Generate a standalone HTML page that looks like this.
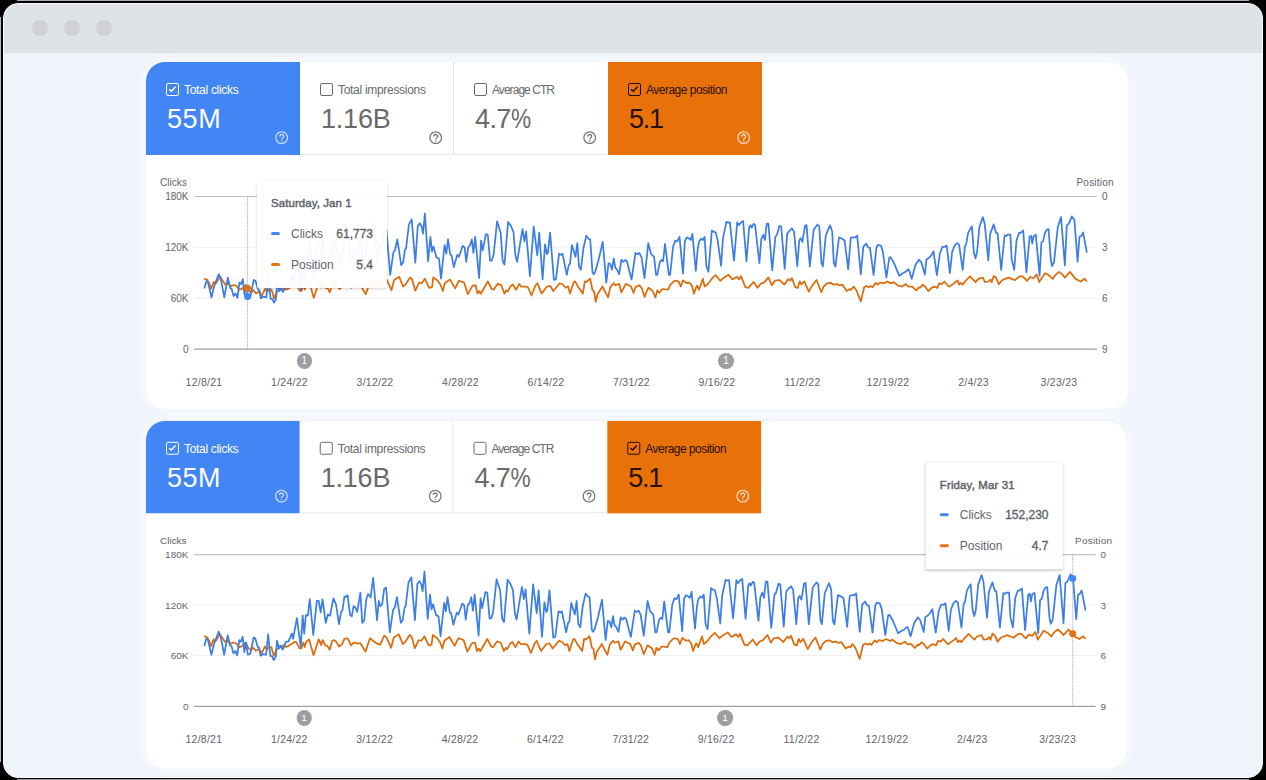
<!DOCTYPE html>
<html><head><meta charset="utf-8">
<style>
*{margin:0;padding:0;box-sizing:border-box}
html,body{width:1266px;height:780px;overflow:hidden;background:#000;font-family:"Liberation Sans",sans-serif}
#frame{position:absolute;left:3px;top:3px;width:1260px;height:775px;border-radius:15px;background:#f0f4fa;overflow:hidden;border:1px solid #fff}
.gl{position:absolute;background:#a9acb0}
#hdr{position:absolute;left:0;top:0;width:100%;height:49px;background:#dfe3e6}
.dot{position:absolute;top:16px;width:16px;height:16px;border-radius:50%;background:#cfd1d4}
.card{position:absolute;left:146px;width:982px;background:#fff;border-radius:19px;box-shadow:0 0 2px rgba(60,80,120,0.06),0 0 12px 3px rgba(255,255,255,0.55)}
.tile{position:absolute;overflow:hidden}
.in{position:absolute;left:0;right:0;top:0;bottom:0}
.orange .help{color:#fff;opacity:.75}
.tile.blue{background:#4285f4;color:#fff;border-top-left-radius:19px}
.tile.orange{background:#e8710a;color:rgba(0,0,0,0.87)}
.tile.white{background:#fff;color:#6a6a6a;border-bottom:1px solid #e6e6e6}
.tile.bd{border-right:1px solid #e3e3e3}
.cb{position:absolute;left:20px;top:21px;width:12.8px;height:12.6px;border:1.8px solid currentColor;border-radius:2px}
.cb svg{position:absolute;left:-1.8px;top:-1.8px}
.lbl{position:absolute;left:38px;top:20.5px;font-size:12px;line-height:14px;white-space:nowrap;letter-spacing:-0.3px}
.val{position:absolute;left:21px;top:41.8px;font-size:27px;line-height:31px;white-space:nowrap;letter-spacing:-0.2px}
.help{position:absolute;right:10.6px;top:67.8px;opacity:.72}
.white .help{color:#666;opacity:.9}
.bd .help{right:9.6px}
.ax{position:absolute;font-size:10px;line-height:11px;color:#5f6368;white-space:nowrap}
.ax.r{text-align:right}
.xl{position:absolute;width:80px;text-align:center;font-size:10.5px;line-height:12px;color:#5f6368;white-space:nowrap;letter-spacing:0.25px}
.ann{position:absolute;width:15.2px;height:15.2px;border-radius:50%;background:#9e9e9e;color:#fff;font-size:10px;line-height:15px;text-align:center}
svg.ch{position:absolute;left:0;top:0}
.cw{position:absolute;left:0;top:0;width:1266px;height:780px}
.tt{position:absolute;background:rgba(255,255,255,0.95);border-radius:2px;box-shadow:0 1px 3px rgba(0,0,0,0.18)}
.tt .d{position:absolute;left:14px;top:16px;font-size:11.5px;font-weight:normal;-webkit-text-stroke:0.45px #5f6368;color:#5f6368;white-space:nowrap;letter-spacing:0.07px}
.tt .row{position:absolute;left:14px;right:14px;height:14px;font-size:12px;color:#5f6368}
.tt .dash{position:absolute;left:0;top:5px;width:9px;height:3px;border-radius:2px}
.tt .k{position:absolute;left:20px;top:0}
.tt .v{position:absolute;right:0;top:0;font-weight:normal;-webkit-text-stroke:0.35px #5f6368;color:#5f6368}
</style></head><body>
<div class="gl" style="left:17px;top:0;width:1232px;height:1px"></div><div class="gl" style="left:0;top:17px;width:1px;height:745px;background:#b8bcc0"></div><div class="gl" style="left:17px;top:779px;width:1232px;height:1px;background:#9c9c9c"></div>
<div id="frame">
<div id="hdr"></div>
<div class="dot" style="left:28px"></div><div class="dot" style="left:60px"></div><div class="dot" style="left:92px"></div>
</div>
<div class="cw">
<div class="card" style="top:62px;height:346.8px"></div>
<div class="tile blue" style="left:146px;top:62px;width:154px;height:93px"><div class="in" style="top:0px"><div class="cb on"><svg viewBox="0 0 12 12" width="12" height="12"><path d="M4.2 7.4 L6.3 9.2 L10.6 4.7" fill="none" stroke="currentColor" stroke-width="1.5"/></svg></div><div class="lbl" style="letter-spacing:-0.3px">Total clicks</div><div class="val"><span style="letter-spacing:0.55px">55M</span></div><svg class="help" viewBox="0 0 24 24" width="15.4" height="15.4"><path fill="currentColor" d="M11 18h2v-2h-2v2zm1-16C6.48 2 2 6.48 2 12s4.48 10 10 10 10-4.48 10-10S17.52 2 12 2zm0 18c-4.41 0-8-3.59-8-8s3.59-8 8-8 8 3.59 8 8-3.59 8-8 8zm0-14c-2.21 0-4 1.79-4 4h2c0-1.1.9-2 2-2s2 .9 2 2c0 2-3 1.75-3 5h2c0-2.25 3-2.5 3-5 0-2.21-1.790-4-4-4z"/></svg></div></div>
<div class="tile white bd" style="left:300px;top:62px;width:154px;height:93px"><div class="in" style="top:0px"><div class="cb"></div><div class="lbl" style="letter-spacing:-0.3px">Total impressions</div><div class="val">1.16B</div><svg class="help" viewBox="0 0 24 24" width="15.4" height="15.4"><path fill="currentColor" d="M11 18h2v-2h-2v2zm1-16C6.48 2 2 6.48 2 12s4.48 10 10 10 10-4.48 10-10S17.52 2 12 2zm0 18c-4.41 0-8-3.59-8-8s3.59-8 8-8 8 3.59 8 8-3.59 8-8 8zm0-14c-2.21 0-4 1.79-4 4h2c0-1.1.9-2 2-2s2 .9 2 2c0 2-3 1.75-3 5h2c0-2.25 3-2.5 3-5 0-2.21-1.790-4-4-4z"/></svg></div></div>
<div class="tile white" style="left:454px;top:62px;width:154px;height:93px"><div class="in" style="top:0px"><div class="cb"></div><div class="lbl" style="letter-spacing:-0.95px">Average CTR</div><div class="val"><span style="letter-spacing:-0.6px">4.7</span><span style="display:inline-block;transform:scaleX(0.84);transform-origin:0 0">%</span></div><svg class="help" viewBox="0 0 24 24" width="15.4" height="15.4"><path fill="currentColor" d="M11 18h2v-2h-2v2zm1-16C6.48 2 2 6.48 2 12s4.48 10 10 10 10-4.48 10-10S17.52 2 12 2zm0 18c-4.41 0-8-3.59-8-8s3.59-8 8-8 8 3.59 8 8-3.59 8-8 8zm0-14c-2.21 0-4 1.79-4 4h2c0-1.1.9-2 2-2s2 .9 2 2c0 2-3 1.75-3 5h2c0-2.25 3-2.5 3-5 0-2.21-1.790-4-4-4z"/></svg></div></div>
<div class="tile orange" style="left:608px;top:62px;width:153.7px;height:93px"><div class="in" style="top:0px"><div class="cb on"><svg viewBox="0 0 12 12" width="12" height="12"><path d="M4.2 7.4 L6.3 9.2 L10.6 4.7" fill="none" stroke="currentColor" stroke-width="1.5"/></svg></div><div class="lbl" style="letter-spacing:-0.51px">Average position</div><div class="val"><span style="letter-spacing:-1.2px">5.1</span></div><svg class="help" viewBox="0 0 24 24" width="15.4" height="15.4"><path fill="currentColor" d="M11 18h2v-2h-2v2zm1-16C6.48 2 2 6.48 2 12s4.48 10 10 10 10-4.48 10-10S17.52 2 12 2zm0 18c-4.41 0-8-3.59-8-8s3.59-8 8-8 8 3.59 8 8-3.59 8-8 8zm0-14c-2.21 0-4 1.79-4 4h2c0-1.1.9-2 2-2s2 .9 2 2c0 2-3 1.75-3 5h2c0-2.25 3-2.5 3-5 0-2.21-1.790-4-4-4z"/></svg></div></div>
<svg class="ch" width="1266" height="780" viewBox="0 0 1266 780">
<line x1="194" x2="1097" y1="196.5" y2="196.5" stroke="#efefef" stroke-width="1"/>
<line x1="194" x2="1097" y1="247.3" y2="247.3" stroke="#efefef" stroke-width="1"/>
<line x1="194" x2="1097" y1="298.0" y2="298.0" stroke="#efefef" stroke-width="1"/>
<line x1="194" x2="1097" y1="196.5" y2="196.5" transform="translate(0,0)" stroke="#c2c2c2" stroke-width="1.2"/>
<line x1="194" x2="1097" y1="349.2" y2="349.2" stroke="#a0a0a0" stroke-width="1.3"/>
<path d="M204.1,278.6 L207.3,279.9 L209.2,283.1 L211.1,288.9 L213.7,281.8 L215.6,283.8 L220.1,276.7 L225.2,284.4 L227.2,283.1 L231.0,286.3 L233.6,285.0 L236.2,285.7 L239.4,289.6 L241.9,288.9 L245.8,285.0 L249.0,291.5 L251.6,292.1 L253.5,290.2 L256.1,293.4 L259.3,291.5 L261.8,296.0 L265.1,288.9 L267.0,292.1 L269.3,289.6 L271.5,289.6 L274.0,298.6 L276.6,292.1 L279.8,290.2 L283.7,287.6 L286.2,289.6 L290.1,287.6 L294.6,284.4 L296.5,284.4 L299.7,290.8 L301.6,290.8 L303.6,285.0 L304.9,289.6 L306.5,284.4 L309.3,281.8 L313.8,297.9 L319.0,281.8 L321.5,287.6 L322.8,282.6 L323.5,283.1 L325.4,287.8 L327.7,288.4 L329.9,292.3 L332.5,283.2 L334.4,282.6 L336.3,283.9 L339.3,289.0 L342.1,287.1 L344.7,281.3 L347.9,280.7 L351.3,287.8 L353.9,285.2 L357.5,285.8 L360.7,285.8 L365.8,294.2 L370.3,280.7 L374.2,283.9 L376.8,285.8 L380.6,287.1 L384.5,278.1 L387.0,280.0 L391.5,290.3 L394.1,280.0 L399.2,276.8 L403.1,286.5 L405.6,284.5 L410.1,277.4 L412.1,279.4 L415.3,290.7 L419.1,282.6 L421.7,283.2 L424.9,278.7 L429.1,287.8 L432.0,287.1 L433.3,277.4 L437.7,280.7 L440.3,284.5 L442.9,291.0 L444.8,283.2 L449.9,279.4 L455.1,288.4 L458.9,280.7 L464.1,282.6 L467.9,294.2 L472.4,285.8 L475.6,285.2 L477.5,293.6 L479.1,291.0 L480.8,293.8 L487.8,281.3 L491.7,289.0 L493.6,289.7 L497.5,283.9 L501.3,285.2 L504.5,293.6 L506.4,290.3 L507.7,291.6 L510.9,285.8 L512.9,284.5 L516.1,289.7 L519.3,283.9 L521.2,286.5 L526.3,286.5 L528.3,287.8 L531.5,295.5 L535.3,285.8 L537.3,283.2 L541.7,293.6 L546.9,286.5 L550.1,285.8 L553.3,291.0 L559.7,283.2 L562.9,284.5 L565.5,287.8 L568.1,286.5 L570.0,293.6 L573.8,281.9 L575.1,281.3 L578.3,287.1 L580.3,289.7 L582.8,293.6 L584.8,281.3 L586.7,281.9 L588.0,280.7 L590.2,278.7 L592.5,290.3 L594.0,291.0 L595.7,301.9 L597.6,294.2 L602.5,286.5 L604.7,291.0 L608.1,297.4 L610.4,287.1 L613.7,283.2 L615.3,285.2 L619.2,283.9 L621.4,292.3 L625.8,283.9 L631.0,286.5 L633.6,292.9 L635.5,287.1 L639.3,285.2 L641.9,288.4 L644.5,296.8 L648.3,287.8 L650.2,289.0 L652.8,291.0 L655.4,297.4 L657.3,290.3 L659.2,292.9 L662.4,289.0 L668.2,289.7 L670.1,285.2 L674.6,280.7 L678.5,281.3 L680.8,286.5 L683.0,280.4 L686.8,283.2 L689.4,282.6 L692.0,285.8 L693.9,293.6 L696.5,286.5 L697.4,285.8 L699.0,289.7 L702.9,278.7 L704.6,286.5 L707.4,284.5 L711.9,278.7 L715.7,275.2 L720.2,280.7 L723.4,278.1 L728.6,274.8 L732.4,279.4 L736.9,276.8 L739.2,279.4 L741.0,276.1 L745.3,287.1 L748.5,287.8 L753.6,281.9 L757.5,287.8 L760.7,283.9 L763.9,282.6 L768.4,277.4 L771.8,285.2 L774.8,280.7 L779.3,280.0 L784.4,284.5 L788.3,279.1 L790.2,280.7 L791.9,278.1 L795.3,287.1 L797.9,287.8 L799.8,281.3 L801.4,284.5 L804.3,281.3 L808.8,291.6 L812.0,285.8 L816.5,280.0 L821.4,292.3 L823.6,286.5 L827.1,283.4 L830.9,282.8 L833.5,284.7 L836.7,284.1 L839.2,285.3 L842.4,284.7 L846.7,291.1 L849.5,289.2 L851.4,289.8 L853.6,286.6 L856.5,290.5 L860.8,301.4 L864.2,287.3 L866.4,286.0 L868.7,287.3 L870.6,286.0 L872.6,287.3 L875.8,282.8 L877.7,284.7 L880.3,282.5 L883.5,283.4 L887.3,281.5 L891.2,283.4 L893.7,282.1 L897.6,285.3 L902.1,286.6 L905.9,284.1 L908.5,286.6 L912.3,286.6 L916.2,290.5 L918.7,287.3 L920.0,287.9 L922.6,284.7 L924.5,286.0 L928.3,291.1 L931.5,287.9 L934.1,286.6 L937.3,287.9 L939.2,283.4 L941.8,284.1 L944.4,281.5 L948.2,286.0 L949.5,286.6 L954.6,282.8 L957.6,280.5 L959.1,284.7 L961.0,282.8 L962.7,284.7 L964.9,281.5 L970.0,276.4 L975.5,282.1 L978.3,278.9 L982.8,277.6 L985.0,282.1 L988.6,281.5 L990.5,279.6 L991.8,282.1 L993.7,276.1 L996.0,277.6 L998.8,284.1 L1002.1,280.2 L1005.3,278.9 L1008.5,277.6 L1011.7,278.9 L1014.9,280.2 L1019.4,276.4 L1022.6,276.4 L1027.1,280.8 L1030.3,277.0 L1033.5,278.3 L1036.7,274.4 L1039.2,282.1 L1045.0,273.2 L1048.8,275.1 L1052.7,278.9 L1055.3,275.1 L1059.1,271.9 L1062.3,274.4 L1064.9,277.6 L1070.0,271.9 L1075.6,278.9 L1080.8,281.5 L1084.6,278.7 L1086.9,281.5" fill="none" stroke="#dc6c0c" stroke-width="1.75" stroke-linejoin="round"/>
<path d="M204.3,288.5 L206.4,281.2 L207.9,281.8 L211.5,297.3 L214.3,285.7 L218.8,274.1 L220.8,279.2 L224.3,297.3 L227.8,277.7 L230.4,288.3 L231.7,288.9 L233.6,296.0 L235.5,293.4 L237.4,297.9 L239.4,282.5 L241.0,284.1 L242.8,279.2 L244.5,294.7 L246.2,285.0 L248.0,297.3 L250.5,296.3 L253.8,279.9 L255.4,280.8 L258.0,289.6 L259.3,290.2 L260.8,298.3 L263.1,296.7 L266.3,297.3 L268.3,276.7 L270.6,298.8 L272.1,298.8 L274.0,302.7 L276.0,299.2 L277.2,283.1 L279.2,290.8 L280.5,288.0 L283.0,292.1 L286.2,284.4 L288.8,283.8 L292.0,276.0 L293.3,281.2 L297.1,260.5 L301.0,289.6 L302.9,257.9 L304.5,276.0 L306.1,257.3 L308.1,257.9 L310.0,241.2 L313.5,277.3 L317.1,243.1 L319.0,243.1 L320.9,254.7 L322.8,241.6 L326.0,265.2 L328.2,256.8 L330.3,258.1 L333.7,240.6 L336.3,246.5 L339.3,266.5 L341.4,254.2 L342.7,252.9 L344.7,238.7 L345.9,239.4 L347.9,237.4 L350.4,257.4 L352.1,258.7 L353.9,248.4 L355.6,249.7 L357.5,254.2 L360.7,234.8 L362.6,265.2 L364.6,262.6 L366.5,241.9 L368.4,236.1 L371.0,239.4 L373.5,220.0 L377.4,262.6 L379.1,243.2 L380.6,248.4 L382.5,246.5 L384.5,231.0 L386.4,229.7 L390.2,274.8 L393.4,252.3 L395.0,250.3 L397.3,239.4 L401.2,265.2 L403.1,262.6 L405.0,249.7 L406.0,249.0 L408.9,224.5 L411.7,219.4 L415.3,262.6 L417.8,225.8 L419.8,223.2 L421.7,226.5 L423.0,233.6 L424.9,213.5 L428.1,261.3 L430.4,236.8 L432.0,251.6 L433.5,246.5 L436.5,257.4 L439.0,258.7 L441.0,278.7 L444.6,245.2 L446.3,253.6 L448.0,239.4 L450.3,254.8 L451.6,255.5 L453.8,267.1 L457.3,254.8 L458.9,256.8 L462.8,245.8 L464.7,247.7 L466.2,261.9 L468.3,247.1 L470.1,245.2 L471.8,239.4 L473.4,252.9 L475.2,236.8 L479.1,278.1 L481.1,240.6 L482.7,250.3 L485.9,234.2 L487.8,234.8 L490.1,260.7 L491.7,260.7 L493.6,254.8 L497.1,221.3 L500.7,232.9 L502.6,260.7 L504.5,264.5 L508.1,221.9 L510.9,225.8 L513.5,232.3 L515.4,255.5 L517.1,261.9 L522.5,229.0 L524.4,241.3 L526.1,231.4 L529.9,276.1 L533.7,226.5 L537.3,255.5 L539.2,232.6 L542.6,279.4 L545.0,244.5 L546.9,254.2 L547.9,252.9 L550.1,232.6 L553.9,280.0 L555.9,279.4 L559.1,253.6 L560.8,254.8 L562.5,253.6 L566.8,274.8 L568.7,265.2 L570.0,263.9 L571.9,245.2 L575.5,256.8 L577.3,243.2 L579.0,266.5 L580.9,269.7 L583.5,247.7 L586.3,235.7 L588.6,238.7 L590.2,239.4 L592.5,272.3 L593.7,274.2 L595.3,271.6 L598.9,258.7 L602.7,241.9 L606.3,282.6 L608.5,263.2 L610.2,263.9 L612.0,269.7 L613.7,258.5 L615.3,267.7 L617.1,269.7 L619.2,274.2 L621.4,259.7 L623.3,261.9 L625.2,260.0 L626.9,261.3 L629.7,272.3 L631.6,279.4 L635.5,252.9 L637.4,254.2 L639.3,252.9 L641.5,257.4 L644.5,278.1 L648.3,243.2 L650.9,253.6 L654.1,256.8 L656.0,274.8 L657.3,274.8 L659.9,261.9 L661.5,260.0 L663.1,261.3 L665.0,243.9 L668.9,274.8 L670.1,274.8 L673.1,246.5 L675.3,240.6 L677.2,241.3 L679.5,236.8 L683.0,273.6 L684.9,240.6 L686.8,237.4 L689.4,238.7 L690.7,240.0 L692.4,233.9 L695.8,271.0 L697.8,248.4 L699.0,241.9 L699.7,240.6 L701.2,238.7 L702.9,240.0 L704.6,236.8 L706.4,266.5 L708.4,271.6 L711.9,230.3 L713.8,231.9 L715.7,232.3 L717.7,240.6 L721.1,265.8 L723.0,238.1 L726.4,221.9 L727.9,222.6 L729.9,222.3 L734.0,260.7 L737.2,222.3 L738.8,225.2 L740.8,222.6 L743.1,221.0 L746.5,261.3 L749.1,227.7 L750.4,225.2 L751.7,227.7 L753.6,223.9 L755.1,224.9 L759.4,263.2 L761.3,239.4 L763.2,234.8 L764.9,240.0 L766.7,223.6 L768.4,223.6 L772.2,270.3 L775.4,236.8 L777.0,234.8 L779.5,225.8 L781.2,226.5 L784.7,269.0 L787.2,233.6 L789.3,231.0 L791.9,228.4 L794.0,231.6 L797.3,266.5 L799.2,240.6 L800.5,238.1 L802.4,241.9 L805.0,225.8 L806.5,224.9 L809.8,266.5 L813.7,229.7 L817.5,224.5 L819.3,226.5 L821.4,262.6 L822.9,266.5 L825.8,235.3 L830.0,225.3 L832.2,231.5 L833.8,262.9 L835.4,266.7 L839.0,237.3 L841.8,238.5 L844.6,240.5 L848.2,269.3 L850.8,237.9 L853.1,237.3 L855.3,237.3 L857.2,235.6 L860.8,274.4 L863.3,246.9 L866.2,243.7 L868.1,247.5 L870.0,247.9 L873.6,275.1 L876.4,247.5 L877.9,244.9 L880.9,245.6 L882.8,251.4 L886.4,277.6 L889.2,257.8 L890.5,257.1 L893.7,262.3 L899.2,275.7 L902.7,273.2 L904.6,272.5 L908.5,269.3 L909.7,271.9 L911.7,278.9 L915.5,264.8 L919.0,259.7 L921.3,262.3 L924.9,274.4 L926.4,259.7 L929.0,257.8 L930.9,255.8 L933.5,251.4 L936.9,275.1 L939.9,253.3 L942.4,246.9 L945.0,246.9 L946.3,245.6 L946.7,245.6 L949.9,273.2 L952.1,252.0 L954.6,245.6 L957.2,243.0 L959.1,244.9 L962.7,269.9 L964.9,246.2 L966.2,244.3 L968.1,232.8 L970.6,228.3 L971.9,226.4 L973.8,252.0 L975.5,258.4 L977.1,252.0 L979.4,227.0 L982.8,217.1 L984.7,223.8 L988.3,260.3 L990.1,234.1 L993.7,224.4 L996.0,232.8 L997.6,233.4 L1001.2,269.9 L1004.6,235.3 L1006.3,236.0 L1007.8,234.7 L1010.4,234.7 L1011.7,259.7 L1014.2,269.9 L1016.5,240.5 L1019.1,232.8 L1020.6,232.8 L1023.2,230.5 L1026.4,272.5 L1029.6,236.6 L1031.2,236.0 L1032.2,243.7 L1033.5,236.6 L1035.8,234.7 L1039.6,275.7 L1041.4,242.4 L1043.1,241.1 L1045.0,232.8 L1046.9,229.6 L1048.6,229.2 L1050.8,259.7 L1052.1,266.1 L1054.0,262.3 L1057.8,227.0 L1061.0,217.1 L1064.9,265.5 L1066.8,225.1 L1068.7,223.8 L1071.9,216.4 L1074.4,219.9 L1077.6,261.6 L1079.5,236.6 L1081.0,236.4 L1083.1,232.5 L1086.9,252.6" fill="none" stroke="#3d7ee6" stroke-width="1.75" stroke-linejoin="round"/>
<line x1="247.6" x2="247.6" y1="196.5" y2="349" stroke="#a8a8a8" stroke-width="1" stroke-dasharray="1.2,1"/>
<circle cx="247.6" cy="296.5" r="3.5" fill="#4285f4"/><circle cx="247.6" cy="288.3" r="3.5" fill="#e8710a"/>
</svg>
<div class="ax" style="left:160px;top:177px">Clicks</div>
<div class="ax" style="left:1076.5px;top:177px;letter-spacing:0.2px">Position</div>
<div class="ax r" style="right:1077.5px;top:191.0px">180K</div>
<div class="ax r" style="right:1077.5px;top:241.8px">120K</div>
<div class="ax r" style="right:1077.5px;top:292.5px">60K</div>
<div class="ax r" style="right:1077.5px;top:343.7px">0</div>
<div class="ax" style="left:1102px;top:191.0px">0</div>
<div class="ax" style="left:1102px;top:241.8px">3</div>
<div class="ax" style="left:1102px;top:292.5px">6</div>
<div class="ax" style="left:1102px;top:343.7px">9</div>
<div class="xl" style="left:164.0px;top:376px">12/8/21</div>
<div class="xl" style="left:249.5px;top:376px">1/24/22</div>
<div class="xl" style="left:335.0px;top:376px">3/12/22</div>
<div class="xl" style="left:420.5px;top:376px">4/28/22</div>
<div class="xl" style="left:506.0px;top:376px">6/14/22</div>
<div class="xl" style="left:591.5px;top:376px">7/31/22</div>
<div class="xl" style="left:677.0px;top:376px">9/16/22</div>
<div class="xl" style="left:762.5px;top:376px">11/2/22</div>
<div class="xl" style="left:848.0px;top:376px">12/19/22</div>
<div class="xl" style="left:933.5px;top:376px">2/4/23</div>
<div class="xl" style="left:1019.0px;top:376px">3/23/23</div>
<div class="ann" style="left:296.59999999999997px;top:353.4px">1</div>
<div class="ann" style="left:718.4px;top:353.4px">1</div>
<div class="tt" style="left:257px;top:181px;width:130px;height:107px">
<div class="d">Saturday, Jan 1</div>
<div class="row" style="top:46px"><div class="dash" style="background:#4285f4"></div><div class="k">Clicks</div><div class="v">61,773</div></div>
<div class="row" style="top:77px"><div class="dash" style="background:#e8710a"></div><div class="k">Position</div><div class="v">5.4</div></div>
</div>
</div>
<div class="cw" style="transform-origin:146px 0;transform:translate(0,359.39px) scale(0.9985,0.99345)">
<div class="card" style="top:62px;height:350px"></div>
<div class="tile blue" style="left:146px;top:62px;width:154px;height:93px"><div class="in" style="top:0px"><div class="cb on"><svg viewBox="0 0 12 12" width="12" height="12"><path d="M4.2 7.4 L6.3 9.2 L10.6 4.7" fill="none" stroke="currentColor" stroke-width="1.5"/></svg></div><div class="lbl" style="letter-spacing:-0.3px">Total clicks</div><div class="val"><span style="letter-spacing:0.55px">55M</span></div><svg class="help" viewBox="0 0 24 24" width="15.4" height="15.4"><path fill="currentColor" d="M11 18h2v-2h-2v2zm1-16C6.48 2 2 6.48 2 12s4.48 10 10 10 10-4.48 10-10S17.52 2 12 2zm0 18c-4.41 0-8-3.59-8-8s3.59-8 8-8 8 3.59 8 8-3.59 8-8 8zm0-14c-2.21 0-4 1.79-4 4h2c0-1.1.9-2 2-2s2 .9 2 2c0 2-3 1.75-3 5h2c0-2.25 3-2.5 3-5 0-2.21-1.790-4-4-4z"/></svg></div></div>
<div class="tile white bd" style="left:300px;top:62px;width:154px;height:93px"><div class="in" style="top:0px"><div class="cb"></div><div class="lbl" style="letter-spacing:-0.3px">Total impressions</div><div class="val">1.16B</div><svg class="help" viewBox="0 0 24 24" width="15.4" height="15.4"><path fill="currentColor" d="M11 18h2v-2h-2v2zm1-16C6.48 2 2 6.48 2 12s4.48 10 10 10 10-4.48 10-10S17.52 2 12 2zm0 18c-4.41 0-8-3.59-8-8s3.59-8 8-8 8 3.59 8 8-3.59 8-8 8zm0-14c-2.21 0-4 1.79-4 4h2c0-1.1.9-2 2-2s2 .9 2 2c0 2-3 1.75-3 5h2c0-2.25 3-2.5 3-5 0-2.21-1.790-4-4-4z"/></svg></div></div>
<div class="tile white" style="left:454px;top:62px;width:154px;height:93px"><div class="in" style="top:0px"><div class="cb"></div><div class="lbl" style="letter-spacing:-0.95px">Average CTR</div><div class="val"><span style="letter-spacing:-0.6px">4.7</span><span style="display:inline-block;transform:scaleX(0.84);transform-origin:0 0">%</span></div><svg class="help" viewBox="0 0 24 24" width="15.4" height="15.4"><path fill="currentColor" d="M11 18h2v-2h-2v2zm1-16C6.48 2 2 6.48 2 12s4.48 10 10 10 10-4.48 10-10S17.52 2 12 2zm0 18c-4.41 0-8-3.59-8-8s3.59-8 8-8 8 3.59 8 8-3.59 8-8 8zm0-14c-2.21 0-4 1.79-4 4h2c0-1.1.9-2 2-2s2 .9 2 2c0 2-3 1.75-3 5h2c0-2.25 3-2.5 3-5 0-2.21-1.790-4-4-4z"/></svg></div></div>
<div class="tile orange" style="left:608px;top:62px;width:153.7px;height:93px"><div class="in" style="top:0px"><div class="cb on"><svg viewBox="0 0 12 12" width="12" height="12"><path d="M4.2 7.4 L6.3 9.2 L10.6 4.7" fill="none" stroke="currentColor" stroke-width="1.5"/></svg></div><div class="lbl" style="letter-spacing:-0.51px">Average position</div><div class="val"><span style="letter-spacing:-1.2px">5.1</span></div><svg class="help" viewBox="0 0 24 24" width="15.4" height="15.4"><path fill="currentColor" d="M11 18h2v-2h-2v2zm1-16C6.48 2 2 6.48 2 12s4.48 10 10 10 10-4.48 10-10S17.52 2 12 2zm0 18c-4.41 0-8-3.59-8-8s3.59-8 8-8 8 3.59 8 8-3.59 8-8 8zm0-14c-2.21 0-4 1.79-4 4h2c0-1.1.9-2 2-2s2 .9 2 2c0 2-3 1.75-3 5h2c0-2.25 3-2.5 3-5 0-2.21-1.790-4-4-4z"/></svg></div></div>
<svg class="ch" width="1266" height="780" viewBox="0 0 1266 780">
<line x1="194" x2="1097" y1="196.5" y2="196.5" stroke="#efefef" stroke-width="1"/>
<line x1="194" x2="1097" y1="247.3" y2="247.3" stroke="#efefef" stroke-width="1"/>
<line x1="194" x2="1097" y1="298.0" y2="298.0" stroke="#efefef" stroke-width="1"/>
<line x1="194" x2="1097" y1="196.5" y2="196.5" transform="translate(0,0)" stroke="#c2c2c2" stroke-width="1.2"/>
<line x1="194" x2="1097" y1="349.2" y2="349.2" stroke="#a0a0a0" stroke-width="1.3"/>
<path d="M204.1,278.6 L207.3,279.9 L209.2,283.1 L211.1,288.9 L213.7,281.8 L215.6,283.8 L220.1,276.7 L225.2,284.4 L227.2,283.1 L231.0,286.3 L233.6,285.0 L236.2,285.7 L239.4,289.6 L241.9,288.9 L245.8,285.0 L249.0,291.5 L251.6,292.1 L253.5,290.2 L256.1,293.4 L259.3,291.5 L261.8,296.0 L265.1,288.9 L267.0,292.1 L269.3,289.6 L271.5,289.6 L274.0,298.6 L276.6,292.1 L279.8,290.2 L283.7,287.6 L286.2,289.6 L290.1,287.6 L294.6,284.4 L296.5,284.4 L299.7,290.8 L301.6,290.8 L303.6,285.0 L304.9,289.6 L306.5,284.4 L309.3,281.8 L313.8,297.9 L319.0,281.8 L321.5,287.6 L322.8,282.6 L323.5,283.1 L325.4,287.8 L327.7,288.4 L329.9,292.3 L332.5,283.2 L334.4,282.6 L336.3,283.9 L339.3,289.0 L342.1,287.1 L344.7,281.3 L347.9,280.7 L351.3,287.8 L353.9,285.2 L357.5,285.8 L360.7,285.8 L365.8,294.2 L370.3,280.7 L374.2,283.9 L376.8,285.8 L380.6,287.1 L384.5,278.1 L387.0,280.0 L391.5,290.3 L394.1,280.0 L399.2,276.8 L403.1,286.5 L405.6,284.5 L410.1,277.4 L412.1,279.4 L415.3,290.7 L419.1,282.6 L421.7,283.2 L424.9,278.7 L429.1,287.8 L432.0,287.1 L433.3,277.4 L437.7,280.7 L440.3,284.5 L442.9,291.0 L444.8,283.2 L449.9,279.4 L455.1,288.4 L458.9,280.7 L464.1,282.6 L467.9,294.2 L472.4,285.8 L475.6,285.2 L477.5,293.6 L479.1,291.0 L480.8,293.8 L487.8,281.3 L491.7,289.0 L493.6,289.7 L497.5,283.9 L501.3,285.2 L504.5,293.6 L506.4,290.3 L507.7,291.6 L510.9,285.8 L512.9,284.5 L516.1,289.7 L519.3,283.9 L521.2,286.5 L526.3,286.5 L528.3,287.8 L531.5,295.5 L535.3,285.8 L537.3,283.2 L541.7,293.6 L546.9,286.5 L550.1,285.8 L553.3,291.0 L559.7,283.2 L562.9,284.5 L565.5,287.8 L568.1,286.5 L570.0,293.6 L573.8,281.9 L575.1,281.3 L578.3,287.1 L580.3,289.7 L582.8,293.6 L584.8,281.3 L586.7,281.9 L588.0,280.7 L590.2,278.7 L592.5,290.3 L594.0,291.0 L595.7,301.9 L597.6,294.2 L602.5,286.5 L604.7,291.0 L608.1,297.4 L610.4,287.1 L613.7,283.2 L615.3,285.2 L619.2,283.9 L621.4,292.3 L625.8,283.9 L631.0,286.5 L633.6,292.9 L635.5,287.1 L639.3,285.2 L641.9,288.4 L644.5,296.8 L648.3,287.8 L650.2,289.0 L652.8,291.0 L655.4,297.4 L657.3,290.3 L659.2,292.9 L662.4,289.0 L668.2,289.7 L670.1,285.2 L674.6,280.7 L678.5,281.3 L680.8,286.5 L683.0,280.4 L686.8,283.2 L689.4,282.6 L692.0,285.8 L693.9,293.6 L696.5,286.5 L697.4,285.8 L699.0,289.7 L702.9,278.7 L704.6,286.5 L707.4,284.5 L711.9,278.7 L715.7,275.2 L720.2,280.7 L723.4,278.1 L728.6,274.8 L732.4,279.4 L736.9,276.8 L739.2,279.4 L741.0,276.1 L745.3,287.1 L748.5,287.8 L753.6,281.9 L757.5,287.8 L760.7,283.9 L763.9,282.6 L768.4,277.4 L771.8,285.2 L774.8,280.7 L779.3,280.0 L784.4,284.5 L788.3,279.1 L790.2,280.7 L791.9,278.1 L795.3,287.1 L797.9,287.8 L799.8,281.3 L801.4,284.5 L804.3,281.3 L808.8,291.6 L812.0,285.8 L816.5,280.0 L821.4,292.3 L823.6,286.5 L827.1,283.4 L830.9,282.8 L833.5,284.7 L836.7,284.1 L839.2,285.3 L842.4,284.7 L846.7,291.1 L849.5,289.2 L851.4,289.8 L853.6,286.6 L856.5,290.5 L860.8,301.4 L864.2,287.3 L866.4,286.0 L868.7,287.3 L870.6,286.0 L872.6,287.3 L875.8,282.8 L877.7,284.7 L880.3,282.5 L883.5,283.4 L887.3,281.5 L891.2,283.4 L893.7,282.1 L897.6,285.3 L902.1,286.6 L905.9,284.1 L908.5,286.6 L912.3,286.6 L916.2,290.5 L918.7,287.3 L920.0,287.9 L922.6,284.7 L924.5,286.0 L928.3,291.1 L931.5,287.9 L934.1,286.6 L937.3,287.9 L939.2,283.4 L941.8,284.1 L944.4,281.5 L948.2,286.0 L949.5,286.6 L954.6,282.8 L957.6,280.5 L959.1,284.7 L961.0,282.8 L962.7,284.7 L964.9,281.5 L970.0,276.4 L975.5,282.1 L978.3,278.9 L982.8,277.6 L985.0,282.1 L988.6,281.5 L990.5,279.6 L991.8,282.1 L993.7,276.1 L996.0,277.6 L998.8,284.1 L1002.1,280.2 L1005.3,278.9 L1008.5,277.6 L1011.7,278.9 L1014.9,280.2 L1019.4,276.4 L1022.6,276.4 L1027.1,280.8 L1030.3,277.0 L1033.5,278.3 L1036.7,274.4 L1039.2,282.1 L1045.0,273.2 L1048.8,275.1 L1052.7,278.9 L1055.3,275.1 L1059.1,271.9 L1062.3,274.4 L1064.9,277.6 L1070.0,271.9 L1075.6,278.9 L1080.8,281.5 L1084.6,278.7 L1086.9,281.5" fill="none" stroke="#dc6c0c" stroke-width="1.75" stroke-linejoin="round"/>
<path d="M204.3,288.5 L206.4,281.2 L207.9,281.8 L211.5,297.3 L214.3,285.7 L218.8,274.1 L220.8,279.2 L224.3,297.3 L227.8,277.7 L230.4,288.3 L231.7,288.9 L233.6,296.0 L235.5,293.4 L237.4,297.9 L239.4,282.5 L241.0,284.1 L242.8,279.2 L244.5,294.7 L246.2,285.0 L248.0,297.3 L250.5,296.3 L253.8,279.9 L255.4,280.8 L258.0,289.6 L259.3,290.2 L260.8,298.3 L263.1,296.7 L266.3,297.3 L268.3,276.7 L270.6,298.8 L272.1,298.8 L274.0,302.7 L276.0,299.2 L277.2,283.1 L279.2,290.8 L280.5,288.0 L283.0,292.1 L286.2,284.4 L288.8,283.8 L292.0,276.0 L293.3,281.2 L297.1,260.5 L301.0,289.6 L302.9,257.9 L304.5,276.0 L306.1,257.3 L308.1,257.9 L310.0,241.2 L313.5,277.3 L317.1,243.1 L319.0,243.1 L320.9,254.7 L322.8,241.6 L326.0,265.2 L328.2,256.8 L330.3,258.1 L333.7,240.6 L336.3,246.5 L339.3,266.5 L341.4,254.2 L342.7,252.9 L344.7,238.7 L345.9,239.4 L347.9,237.4 L350.4,257.4 L352.1,258.7 L353.9,248.4 L355.6,249.7 L357.5,254.2 L360.7,234.8 L362.6,265.2 L364.6,262.6 L366.5,241.9 L368.4,236.1 L371.0,239.4 L373.5,220.0 L377.4,262.6 L379.1,243.2 L380.6,248.4 L382.5,246.5 L384.5,231.0 L386.4,229.7 L390.2,274.8 L393.4,252.3 L395.0,250.3 L397.3,239.4 L401.2,265.2 L403.1,262.6 L405.0,249.7 L406.0,249.0 L408.9,224.5 L411.7,219.4 L415.3,262.6 L417.8,225.8 L419.8,223.2 L421.7,226.5 L423.0,233.6 L424.9,213.5 L428.1,261.3 L430.4,236.8 L432.0,251.6 L433.5,246.5 L436.5,257.4 L439.0,258.7 L441.0,278.7 L444.6,245.2 L446.3,253.6 L448.0,239.4 L450.3,254.8 L451.6,255.5 L453.8,267.1 L457.3,254.8 L458.9,256.8 L462.8,245.8 L464.7,247.7 L466.2,261.9 L468.3,247.1 L470.1,245.2 L471.8,239.4 L473.4,252.9 L475.2,236.8 L479.1,278.1 L481.1,240.6 L482.7,250.3 L485.9,234.2 L487.8,234.8 L490.1,260.7 L491.7,260.7 L493.6,254.8 L497.1,221.3 L500.7,232.9 L502.6,260.7 L504.5,264.5 L508.1,221.9 L510.9,225.8 L513.5,232.3 L515.4,255.5 L517.1,261.9 L522.5,229.0 L524.4,241.3 L526.1,231.4 L529.9,276.1 L533.7,226.5 L537.3,255.5 L539.2,232.6 L542.6,279.4 L545.0,244.5 L546.9,254.2 L547.9,252.9 L550.1,232.6 L553.9,280.0 L555.9,279.4 L559.1,253.6 L560.8,254.8 L562.5,253.6 L566.8,274.8 L568.7,265.2 L570.0,263.9 L571.9,245.2 L575.5,256.8 L577.3,243.2 L579.0,266.5 L580.9,269.7 L583.5,247.7 L586.3,235.7 L588.6,238.7 L590.2,239.4 L592.5,272.3 L593.7,274.2 L595.3,271.6 L598.9,258.7 L602.7,241.9 L606.3,282.6 L608.5,263.2 L610.2,263.9 L612.0,269.7 L613.7,258.5 L615.3,267.7 L617.1,269.7 L619.2,274.2 L621.4,259.7 L623.3,261.9 L625.2,260.0 L626.9,261.3 L629.7,272.3 L631.6,279.4 L635.5,252.9 L637.4,254.2 L639.3,252.9 L641.5,257.4 L644.5,278.1 L648.3,243.2 L650.9,253.6 L654.1,256.8 L656.0,274.8 L657.3,274.8 L659.9,261.9 L661.5,260.0 L663.1,261.3 L665.0,243.9 L668.9,274.8 L670.1,274.8 L673.1,246.5 L675.3,240.6 L677.2,241.3 L679.5,236.8 L683.0,273.6 L684.9,240.6 L686.8,237.4 L689.4,238.7 L690.7,240.0 L692.4,233.9 L695.8,271.0 L697.8,248.4 L699.0,241.9 L699.7,240.6 L701.2,238.7 L702.9,240.0 L704.6,236.8 L706.4,266.5 L708.4,271.6 L711.9,230.3 L713.8,231.9 L715.7,232.3 L717.7,240.6 L721.1,265.8 L723.0,238.1 L726.4,221.9 L727.9,222.6 L729.9,222.3 L734.0,260.7 L737.2,222.3 L738.8,225.2 L740.8,222.6 L743.1,221.0 L746.5,261.3 L749.1,227.7 L750.4,225.2 L751.7,227.7 L753.6,223.9 L755.1,224.9 L759.4,263.2 L761.3,239.4 L763.2,234.8 L764.9,240.0 L766.7,223.6 L768.4,223.6 L772.2,270.3 L775.4,236.8 L777.0,234.8 L779.5,225.8 L781.2,226.5 L784.7,269.0 L787.2,233.6 L789.3,231.0 L791.9,228.4 L794.0,231.6 L797.3,266.5 L799.2,240.6 L800.5,238.1 L802.4,241.9 L805.0,225.8 L806.5,224.9 L809.8,266.5 L813.7,229.7 L817.5,224.5 L819.3,226.5 L821.4,262.6 L822.9,266.5 L825.8,235.3 L830.0,225.3 L832.2,231.5 L833.8,262.9 L835.4,266.7 L839.0,237.3 L841.8,238.5 L844.6,240.5 L848.2,269.3 L850.8,237.9 L853.1,237.3 L855.3,237.3 L857.2,235.6 L860.8,274.4 L863.3,246.9 L866.2,243.7 L868.1,247.5 L870.0,247.9 L873.6,275.1 L876.4,247.5 L877.9,244.9 L880.9,245.6 L882.8,251.4 L886.4,277.6 L889.2,257.8 L890.5,257.1 L893.7,262.3 L899.2,275.7 L902.7,273.2 L904.6,272.5 L908.5,269.3 L909.7,271.9 L911.7,278.9 L915.5,264.8 L919.0,259.7 L921.3,262.3 L924.9,274.4 L926.4,259.7 L929.0,257.8 L930.9,255.8 L933.5,251.4 L936.9,275.1 L939.9,253.3 L942.4,246.9 L945.0,246.9 L946.3,245.6 L946.7,245.6 L949.9,273.2 L952.1,252.0 L954.6,245.6 L957.2,243.0 L959.1,244.9 L962.7,269.9 L964.9,246.2 L966.2,244.3 L968.1,232.8 L970.6,228.3 L971.9,226.4 L973.8,252.0 L975.5,258.4 L977.1,252.0 L979.4,227.0 L982.8,217.1 L984.7,223.8 L988.3,260.3 L990.1,234.1 L993.7,224.4 L996.0,232.8 L997.6,233.4 L1001.2,269.9 L1004.6,235.3 L1006.3,236.0 L1007.8,234.7 L1010.4,234.7 L1011.7,259.7 L1014.2,269.9 L1016.5,240.5 L1019.1,232.8 L1020.6,232.8 L1023.2,230.5 L1026.4,272.5 L1029.6,236.6 L1031.2,236.0 L1032.2,243.7 L1033.5,236.6 L1035.8,234.7 L1039.6,275.7 L1041.4,242.4 L1043.1,241.1 L1045.0,232.8 L1046.9,229.6 L1048.6,229.2 L1050.8,259.7 L1052.1,266.1 L1054.0,262.3 L1057.8,227.0 L1061.0,217.1 L1064.9,265.5 L1066.8,225.1 L1068.7,223.8 L1071.9,216.4 L1074.4,219.9 L1077.6,261.6 L1079.5,236.6 L1081.0,236.4 L1083.1,232.5 L1086.9,252.6" fill="none" stroke="#3d7ee6" stroke-width="1.75" stroke-linejoin="round"/>
<line x1="1074.1" x2="1074.1" y1="196.5" y2="349" stroke="#a8a8a8" stroke-width="1" stroke-dasharray="1.2,1"/>
<circle cx="1074.1" cy="220.5" r="3.5" fill="#4285f4"/><circle cx="1074.1" cy="276.2" r="3.5" fill="#e8710a"/>
</svg>
<div class="ax" style="left:160px;top:177px">Clicks</div>
<div class="ax" style="left:1076.5px;top:177px;letter-spacing:0.2px">Position</div>
<div class="ax r" style="right:1077.5px;top:191.0px">180K</div>
<div class="ax r" style="right:1077.5px;top:241.8px">120K</div>
<div class="ax r" style="right:1077.5px;top:292.5px">60K</div>
<div class="ax r" style="right:1077.5px;top:343.7px">0</div>
<div class="ax" style="left:1102px;top:191.0px">0</div>
<div class="ax" style="left:1102px;top:241.8px">3</div>
<div class="ax" style="left:1102px;top:292.5px">6</div>
<div class="ax" style="left:1102px;top:343.7px">9</div>
<div class="xl" style="left:164.0px;top:376px">12/8/21</div>
<div class="xl" style="left:249.5px;top:376px">1/24/22</div>
<div class="xl" style="left:335.0px;top:376px">3/12/22</div>
<div class="xl" style="left:420.5px;top:376px">4/28/22</div>
<div class="xl" style="left:506.0px;top:376px">6/14/22</div>
<div class="xl" style="left:591.5px;top:376px">7/31/22</div>
<div class="xl" style="left:677.0px;top:376px">9/16/22</div>
<div class="xl" style="left:762.5px;top:376px">11/2/22</div>
<div class="xl" style="left:848.0px;top:376px">12/19/22</div>
<div class="xl" style="left:933.5px;top:376px">2/4/23</div>
<div class="xl" style="left:1019.0px;top:376px">3/23/23</div>
<div class="ann" style="left:296.59999999999997px;top:353.4px">1</div>
<div class="ann" style="left:718.4px;top:353.4px">1</div>
<div class="tt" style="left:927px;top:104.4px;width:136.9px;height:106.6px">
<div class="d" style="letter-spacing:0.13px">Friday, Mar 31</div>
<div class="row" style="top:46px"><div class="dash" style="background:#4285f4"></div><div class="k">Clicks</div><div class="v">152,230</div></div>
<div class="row" style="top:77px"><div class="dash" style="background:#e8710a"></div><div class="k">Position</div><div class="v">4.7</div></div>
</div>
</div>
</body></html>
